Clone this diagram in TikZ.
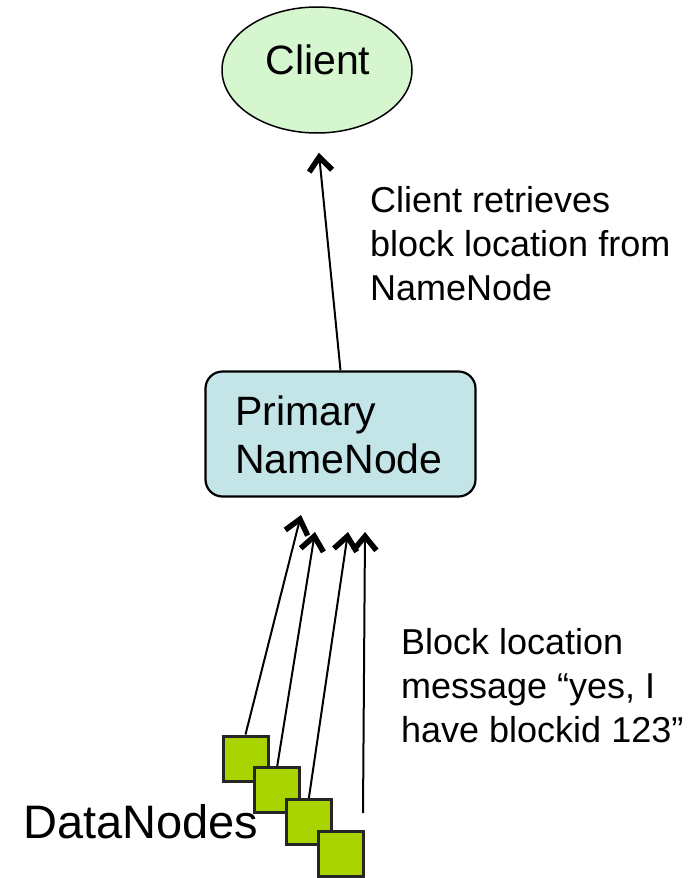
\documentclass[tikz,border=0pt]{standalone}
\usepackage{fontspec}
\setmainfont{Liberation Sans}
\usetikzlibrary{arrows.meta,shapes.geometric}

\definecolor{clientfill}{RGB}{214,246,208}
\definecolor{nnfill}{RGB}{196,229,232}
\definecolor{dnfill}{RGB}{170,212,0}

\tikzset{
  clientshape/.style={ellipse, draw=black, line width=1.5pt, fill=clientfill,
    minimum width=190pt, minimum height=126pt, inner sep=0pt},
  nnbox/.style={draw=black, line width=2.2pt, fill=nnfill, rounded corners=17pt,
    minimum width=270pt, minimum height=125pt, inner sep=0pt},
  dnbox/.style={draw=black!85, line width=3pt, fill=dnfill,
    minimum size=45pt, inner sep=0pt},
  bigtext/.style={font=\fontsize{41}{48}\selectfont, inner sep=0pt},
  notetext/.style={font=\fontsize{36}{44}\selectfont, align=left, inner sep=0pt},
  barb/.style={line width=2pt,
    -{Straight Barb[length=14pt,width=23pt,line width=5.5pt]}}
}

\begin{document}
\begin{tikzpicture}[x=1pt,y=-1pt]
  \useasboundingbox (0,0) rectangle (693,878);

  % client
  \node[clientshape] (client) at (317,70) {};
  \node[bigtext, anchor=base] (clientlabel) at (318,74) {Client};

  % primary name node
  \node[nnbox] (nn) at (340.5,434) {};
  \node[bigtext, anchor=base west] (nnline1) at (235,425) {Primary};
  \node[bigtext, anchor=base west] (nnline2) at (235,473) {NameNode};

  % request arrow
  \draw[barb, shorten >=19pt] (nn.north) -- (client.south);
  % multi-line nodes sit on the baseline of their last line
  \node[notetext, anchor=base west] (retrieve) at (370,300)
    {Client retrieves\\block location from\\NameNode};

  % heartbeat arrow ends just below the name node
  \coordinate (t1) at (301,515);
  \coordinate (t2) at (315,532);
  \coordinate (t3) at (348,532);
  \coordinate (t4) at (365,532);
  \coordinate (s4) at (363,813);

  % data nodes
  \node[dnbox] (dn1) at (245.5,758.5) {};
  \node[dnbox] (dn2) at (277.2,790.2) {};
  \node[dnbox] (dn3) at (308.9,821.9) {};
  \node[dnbox] (dn4) at (340.6,853.6) {};

  \draw[barb] (dn1.north) -- (t1);
  \draw[barb] (dn2.north) -- (t2);
  \draw[barb] (dn3.north) -- (t3);
  \draw[barb] (s4) -- (t4);

  \node[notetext, anchor=base west] (blockmsg) at (401,742)
    {Block location\\message “yes, I\\have blockid 123”};

  \node[font=\fontsize{47}{56}\selectfont, inner sep=0pt, anchor=base west]
    (dnlabel) at (23,838) {DataNodes};
\end{tikzpicture}
\end{document}
